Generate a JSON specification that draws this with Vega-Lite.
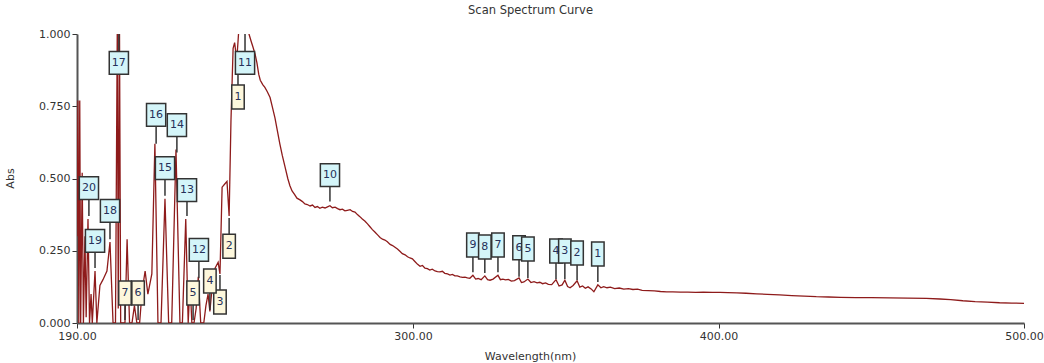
{
  "$schema": "https://vega.github.io/schema/vega-lite/v6.json",
  "width": 947,
  "height": 289,
  "autosize": {"type": "none"},
  "padding": {"left": 77, "top": 34, "right": 20, "bottom": 40},
  "background": "white",
  "config": {"view": {"stroke": null}, "font": "DejaVu Sans"},
  "title": {"text": "Scan Spectrum Curve", "fontSize": 11.5, "fontWeight": "normal", "color": "#333333", "anchor": "middle", "offset": 12, "dx": -20},
  "datasets": {
    "spec": [
      {"wl":190.0,"abs":0.30},{"wl":190.3,"abs":0.77},{"wl":190.6,"abs":0.0},{"wl":190.9,"abs":0.77},{"wl":191.2,"abs":0.0},
      {"wl":191.7,"abs":0.52},{"wl":192.1,"abs":0.0},{"wl":192.6,"abs":0.30},{"wl":193.0,"abs":0.02},{"wl":193.6,"abs":0.36},
      {"wl":194.1,"abs":0.0},{"wl":194.6,"abs":0.10},{"wl":195.0,"abs":0.0},{"wl":195.9,"abs":0.18},{"wl":196.5,"abs":0.0},
      {"wl":197.5,"abs":0.13},{"wl":198.5,"abs":0.15},{"wl":199.8,"abs":0.18},{"wl":200.8,"abs":0.28},{"wl":201.8,"abs":0.0},
      {"wl":202.6,"abs":0.0},{"wl":203.2,"abs":1.05},{"wl":203.5,"abs":0.05},{"wl":203.9,"abs":1.05},{"wl":204.3,"abs":0.0},
      {"wl":205.0,"abs":0.0},{"wl":205.7,"abs":0.0},{"wl":206.4,"abs":0.29},{"wl":207.2,"abs":0.0},{"wl":208.0,"abs":0.0},
      {"wl":208.8,"abs":0.06},{"wl":209.6,"abs":0.0},{"wl":210.5,"abs":0.0},{"wl":211.3,"abs":0.11},{"wl":212.3,"abs":0.18},
      {"wl":213.2,"abs":0.10},{"wl":214.5,"abs":0.17},{"wl":215.5,"abs":0.62},{"wl":216.5,"abs":0.0},{"wl":217.5,"abs":0.0},
      {"wl":218.8,"abs":0.43},{"wl":220.0,"abs":0.0},{"wl":221.0,"abs":0.0},{"wl":222.4,"abs":0.60},{"wl":223.7,"abs":0.0},
      {"wl":224.5,"abs":0.0},{"wl":225.6,"abs":0.36},{"wl":226.4,"abs":0.0},{"wl":227.0,"abs":0.14},{"wl":227.6,"abs":0.0},
      {"wl":228.3,"abs":0.0},{"wl":229.0,"abs":0.05},{"wl":229.7,"abs":0.16},{"wl":230.5,"abs":0.0},{"wl":231.5,"abs":0.0},
      {"wl":232.2,"abs":0.06},{"wl":232.9,"abs":0.10},{"wl":233.5,"abs":0.04},{"wl":234.2,"abs":0.12},{"wl":235.2,"abs":0.19},
      {"wl":236.2,"abs":0.21},{"wl":236.8,"abs":0.17},{"wl":237.5,"abs":0.47},{"wl":238.3,"abs":0.48},{"wl":239.1,"abs":0.49},
      {"wl":239.8,"abs":0.37},{"wl":240.4,"abs":0.70},{"wl":241.1,"abs":0.95},{"wl":241.6,"abs":0.97},{"wl":242.3,"abs":0.91},
      {"wl":243.0,"abs":1.02},{"wl":243.8,"abs":1.07},{"wl":244.7,"abs":1.09},{"wl":245.6,"abs":1.05},{"wl":246.3,"abs":1.0},
      {"wl":247.0,"abs":0.975},{"wl":247.6,"abs":0.955},{"wl":248.3,"abs":0.93},{"wl":248.9,"abs":0.90},{"wl":249.5,"abs":0.86},
      {"wl":250.0,"abs":0.84},{"wl":250.8,"abs":0.825},{"wl":251.5,"abs":0.815},{"wl":252.3,"abs":0.80},{"wl":253.2,"abs":0.78},
      {"wl":254.0,"abs":0.745},{"wl":254.8,"abs":0.71},{"wl":255.6,"abs":0.665},{"wl":256.4,"abs":0.62},{"wl":257.2,"abs":0.58},
      {"wl":258.1,"abs":0.54},{"wl":259.0,"abs":0.50},{"wl":259.7,"abs":0.475},{"wl":260.4,"abs":0.457},{"wl":261.2,"abs":0.445},
      {"wl":262.0,"abs":0.432},{"wl":263.0,"abs":0.426},{"wl":263.8,"abs":0.42},{"wl":264.6,"abs":0.412},{"wl":265.4,"abs":0.41},
      {"wl":266.3,"abs":0.405},{"wl":267.1,"abs":0.408},{"wl":267.9,"abs":0.40},{"wl":268.7,"abs":0.403},{"wl":269.5,"abs":0.397},
      {"wl":270.3,"abs":0.401},{"wl":271.2,"abs":0.398},{"wl":272.0,"abs":0.402},{"wl":272.8,"abs":0.406},{"wl":273.6,"abs":0.399},
      {"wl":274.5,"abs":0.401},{"wl":275.3,"abs":0.396},{"wl":276.1,"abs":0.392},{"wl":276.9,"abs":0.394},{"wl":277.7,"abs":0.388},
      {"wl":278.5,"abs":0.39},{"wl":279.4,"abs":0.392},{"wl":280.2,"abs":0.386},{"wl":281.0,"abs":0.384},{"wl":281.8,"abs":0.375},
      {"wl":282.6,"abs":0.368},{"wl":283.4,"abs":0.36},{"wl":284.3,"abs":0.352},{"wl":285.1,"abs":0.343},{"wl":285.9,"abs":0.333},
      {"wl":286.7,"abs":0.323},{"wl":287.5,"abs":0.315},{"wl":288.4,"abs":0.305},{"wl":289.2,"abs":0.296},{"wl":290.0,"abs":0.29},
      {"wl":290.8,"abs":0.287},{"wl":291.6,"abs":0.281},{"wl":292.5,"abs":0.272},{"wl":293.3,"abs":0.268},{"wl":294.1,"abs":0.262},
      {"wl":294.9,"abs":0.256},{"wl":295.7,"abs":0.248},{"wl":296.5,"abs":0.24},{"wl":297.4,"abs":0.236},{"wl":298.2,"abs":0.229},
      {"wl":299.0,"abs":0.225},{"wl":299.8,"abs":0.222},{"wl":300.6,"abs":0.213},{"wl":301.5,"abs":0.203},{"wl":302.3,"abs":0.196},
      {"wl":303.1,"abs":0.199},{"wl":303.9,"abs":0.19},{"wl":304.7,"abs":0.188},{"wl":305.5,"abs":0.183},{"wl":306.3,"abs":0.186},
      {"wl":307.2,"abs":0.18},{"wl":308.0,"abs":0.178},{"wl":308.8,"abs":0.177},{"wl":309.6,"abs":0.179},{"wl":310.4,"abs":0.172},
      {"wl":311.3,"abs":0.17},{"wl":312.1,"abs":0.166},{"wl":312.9,"abs":0.168},{"wl":313.7,"abs":0.163},{"wl":314.5,"abs":0.163},
      {"wl":315.4,"abs":0.16},{"wl":316.2,"abs":0.158},{"wl":317.0,"abs":0.159},{"wl":317.8,"abs":0.156},{"wl":318.6,"abs":0.155},
      {"wl":319.6,"abs":0.165},{"wl":320.5,"abs":0.152},{"wl":321.3,"abs":0.154},{"wl":322.3,"abs":0.15},{"wl":323.5,"abs":0.163},
      {"wl":324.4,"abs":0.15},{"wl":325.2,"abs":0.148},{"wl":326.2,"abs":0.152},{"wl":327.8,"abs":0.165},{"wl":328.6,"abs":0.15},
      {"wl":329.4,"abs":0.152},{"wl":330.3,"abs":0.149},{"wl":331.2,"abs":0.151},{"wl":332.2,"abs":0.145},{"wl":333.2,"abs":0.147},
      {"wl":334.7,"abs":0.156},{"wl":335.5,"abs":0.14},{"wl":336.3,"abs":0.142},{"wl":337.6,"abs":0.152},{"wl":338.6,"abs":0.14},
      {"wl":339.6,"abs":0.143},{"wl":340.6,"abs":0.139},{"wl":341.5,"abs":0.141},{"wl":342.4,"abs":0.136},{"wl":343.4,"abs":0.139},
      {"wl":344.3,"abs":0.134},{"wl":345.4,"abs":0.133},{"wl":346.8,"abs":0.15},{"wl":347.8,"abs":0.128},{"wl":348.8,"abs":0.132},
      {"wl":349.7,"abs":0.148},{"wl":350.6,"abs":0.126},{"wl":351.4,"abs":0.122},{"wl":352.4,"abs":0.13},{"wl":353.7,"abs":0.146},
      {"wl":354.6,"abs":0.124},{"wl":355.5,"abs":0.128},{"wl":356.4,"abs":0.12},{"wl":357.3,"abs":0.125},{"wl":358.3,"abs":0.118},
      {"wl":359.2,"abs":0.108},{"wl":360.5,"abs":0.132},{"wl":361.5,"abs":0.122},{"wl":362.4,"abs":0.126},{"wl":363.5,"abs":0.122},
      {"wl":364.6,"abs":0.124},{"wl":366.0,"abs":0.119},{"wl":367.5,"abs":0.121},{"wl":369.0,"abs":0.117},{"wl":370.5,"abs":0.119},
      {"wl":372.0,"abs":0.116},{"wl":373.5,"abs":0.117},{"wl":375.0,"abs":0.113},{"wl":377.0,"abs":0.112},{"wl":379.0,"abs":0.111},
      {"wl":381.0,"abs":0.109},{"wl":383.0,"abs":0.108},{"wl":385.0,"abs":0.108},{"wl":387.5,"abs":0.107},{"wl":390.0,"abs":0.107},
      {"wl":392.5,"abs":0.106},{"wl":395.0,"abs":0.107},{"wl":398.0,"abs":0.106},{"wl":400.5,"abs":0.106},{"wl":403.0,"abs":0.105},
      {"wl":406.0,"abs":0.104},{"wl":409.0,"abs":0.103},{"wl":412.5,"abs":0.101},{"wl":416.0,"abs":0.099},{"wl":420.0,"abs":0.097},
      {"wl":424.0,"abs":0.095},{"wl":428.0,"abs":0.093},{"wl":432.0,"abs":0.091},{"wl":436.0,"abs":0.09},{"wl":440.0,"abs":0.089},
      {"wl":445.0,"abs":0.088},{"wl":450.0,"abs":0.088},{"wl":456.0,"abs":0.087},{"wl":462.0,"abs":0.086},{"wl":468.0,"abs":0.085},
      {"wl":472.5,"abs":0.083},{"wl":476.0,"abs":0.081},{"wl":480.0,"abs":0.077},{"wl":484.0,"abs":0.074},{"wl":488.0,"abs":0.072},
      {"wl":492.0,"abs":0.07},{"wl":496.0,"abs":0.069},{"wl":500.0,"abs":0.068}
    ],
    "marks": [
      {"label":"17","kind":"peak","wl":203.7,"tip":1.0,"box":0.90},
      {"label":"16","kind":"peak","wl":215.9,"tip":0.62,"box":0.72},
      {"label":"14","kind":"peak","wl":222.7,"tip":0.59,"box":0.685},
      {"label":"15","kind":"peak","wl":218.8,"tip":0.44,"box":0.536},
      {"label":"13","kind":"peak","wl":226.0,"tip":0.37,"box":0.46},
      {"label":"20","kind":"peak","wl":193.9,"tip":0.37,"box":0.467},
      {"label":"18","kind":"peak","wl":200.8,"tip":0.29,"box":0.388},
      {"label":"19","kind":"peak","wl":195.9,"tip":0.19,"box":0.284},
      {"label":"12","kind":"peak","wl":229.9,"tip":0.155,"box":0.253},
      {"label":"11","kind":"peak","wl":245.0,"tip":1.0,"box":0.90},
      {"label":"10","kind":"peak","wl":272.8,"tip":0.42,"box":0.512},
      {"label":"9","kind":"peak","wl":319.6,"tip":0.176,"box":0.27},
      {"label":"8","kind":"peak","wl":323.5,"tip":0.173,"box":0.263},
      {"label":"7","kind":"peak","wl":327.8,"tip":0.176,"box":0.27},
      {"label":"6","kind":"peak","wl":334.7,"tip":0.16,"box":0.26},
      {"label":"5","kind":"peak","wl":337.6,"tip":0.156,"box":0.256},
      {"label":"4","kind":"peak","wl":346.8,"tip":0.152,"box":0.249},
      {"label":"3","kind":"peak","wl":349.7,"tip":0.152,"box":0.249},
      {"label":"2","kind":"peak","wl":353.7,"tip":0.149,"box":0.242},
      {"label":"1","kind":"peak","wl":360.5,"tip":0.142,"box":0.239},
      {"label":"1","kind":"valley","wl":242.7,"tip":0.91,"box":0.782},
      {"label":"2","kind":"valley","wl":239.8,"tip":0.363,"box":0.266},
      {"label":"3","kind":"valley","wl":236.8,"tip":0.166,"box":0.073},
      {"label":"4","kind":"valley","wl":233.5,"tip":0.045,"box":0.145},
      {"label":"5","kind":"valley","wl":228.0,"tip":0.01,"box":0.104},
      {"label":"6","kind":"valley","wl":210.0,"tip":0.01,"box":0.104},
      {"label":"7","kind":"valley","wl":205.7,"tip":0.01,"box":0.104}
    ]
  },
  "layer": [
    {
      "data": {"name": "spec"},
      "mark": {"type": "line", "color": "#8e1b1b", "strokeWidth": 1.3, "clip": true},
      "encoding": {
        "x": {"field": "wl", "type": "quantitative",
          "scale": {"domain": [190, 500], "nice": false, "zero": false},
          "axis": {"values": [190, 300, 400, 500], "format": ".2f", "title": "Wavelength(nm)", "grid": false,
            "domainColor": "#555555", "domainWidth": 2, "tickColor": "#333333", "tickSize": 5,
            "labelFontSize": 11, "labelColor": "#333333", "labelFlush": false,
            "titleFontSize": 11, "titleFontWeight": "normal", "titleColor": "#333333", "titleX": 453, "titleY": 27}},
        "y": {"field": "abs", "type": "quantitative",
          "scale": {"domain": [0, 1], "nice": false, "zero": false},
          "axis": {"values": [0, 0.25, 0.5, 0.75, 1], "format": ".3f", "title": "Abs", "grid": false,
            "domainColor": "#555555", "domainWidth": 2, "tickColor": "#333333", "tickSize": 5,
            "labelFontSize": 11, "labelColor": "#333333", "labelFlush": false,
            "titleFontSize": 11, "titleFontWeight": "normal", "titleColor": "#333333", "titleX": -62, "titleY": 144}}
      }
    },
    {
      "data": {"name": "marks"},
      "mark": {"type": "rule", "color": "#333333", "strokeWidth": 1.5},
      "encoding": {
        "x": {"field": "wl", "type": "quantitative"},
        "y": {"field": "tip", "type": "quantitative"},
        "y2": {"field": "box"}
      }
    },
    {
      "data": {"name": "marks"},
      "transform": [{"filter": "length(datum.label) == 1"}],
      "mark": {"type": "point", "shape": "M-0.52,-1H0.52V1H-0.52Z", "size": 576, "filled": true, "opacity": 1, "stroke": "#333333", "strokeWidth": 1.5},
      "encoding": {
        "x": {"field": "wl", "type": "quantitative"},
        "y": {"field": "box", "type": "quantitative"},
        "fill": {"field": "kind", "type": "nominal", "scale": {"domain": ["peak", "valley"], "range": ["#d4f5f9", "#fdf7dc"]}, "legend": null}
      }
    },
    {
      "data": {"name": "marks"},
      "transform": [{"filter": "length(datum.label) > 1"}],
      "mark": {"type": "point", "shape": "M-0.8,-0.95H0.8V0.95H-0.8Z", "size": 576, "filled": true, "opacity": 1, "stroke": "#333333", "strokeWidth": 1.5},
      "encoding": {
        "x": {"field": "wl", "type": "quantitative"},
        "y": {"field": "box", "type": "quantitative"},
        "fill": {"field": "kind", "type": "nominal", "scale": {"domain": ["peak", "valley"], "range": ["#d4f5f9", "#fdf7dc"]}, "legend": null}
      }
    },
    {
      "data": {"name": "marks"},
      "mark": {"type": "text", "fontSize": 11, "color": "#26305a", "font": "DejaVu Sans"},
      "encoding": {
        "x": {"field": "wl", "type": "quantitative"},
        "y": {"field": "box", "type": "quantitative"},
        "text": {"field": "label"}
      }
    }
  ]
}
